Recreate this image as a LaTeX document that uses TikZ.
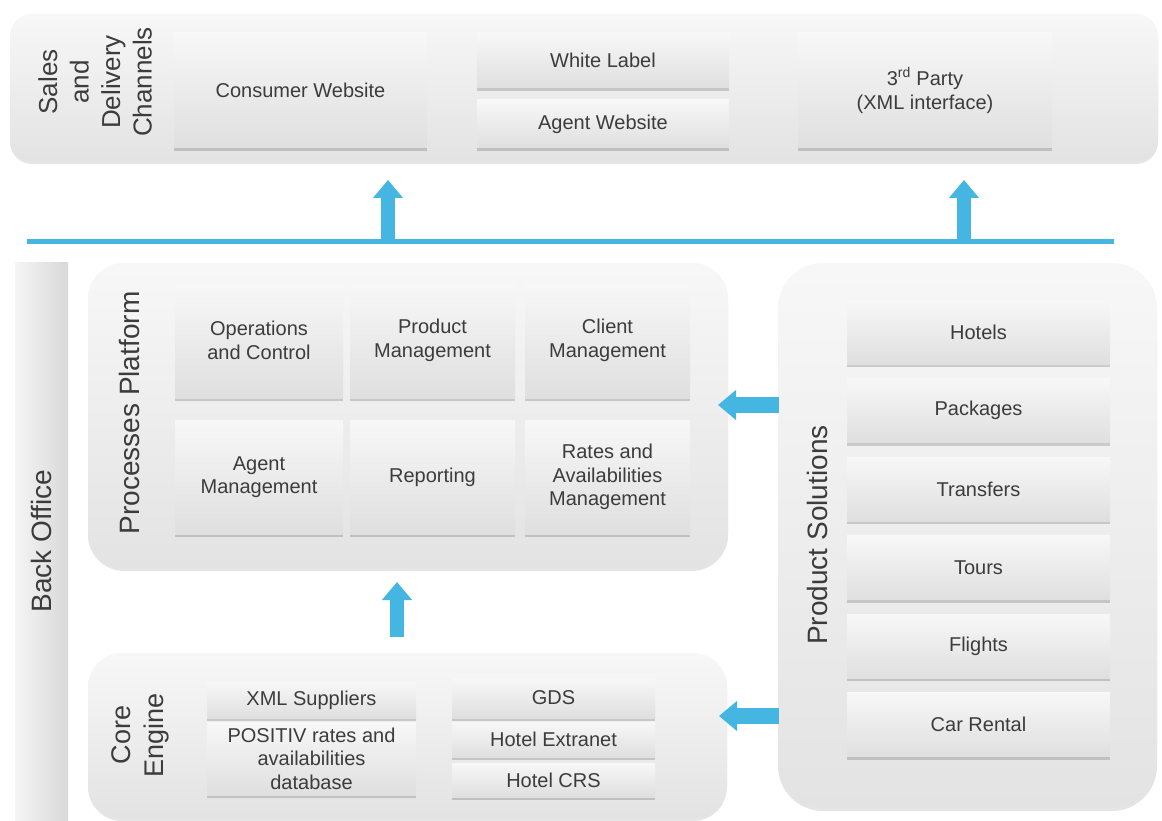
\documentclass[tikz,border=0pt]{standalone}
\usepackage{fontspec}
\setmainfont{Liberation Sans}
\usetikzlibrary{arrows.meta,shadows}
\definecolor{txt}{HTML}{3C3C3C}
\definecolor{bl}{HTML}{45B5E2}
\tikzset{
  cont/.style={rounded corners=#1, top color=gray!6, bottom color=gray!22, draw=none, inner sep=0pt,
    drop shadow={shadow xshift=0pt, shadow yshift=-3pt, fill=black, opacity=0.10}},
  ibox/.style={top color=gray!6, bottom color=gray!25, draw=none, inner sep=0pt, align=center, text=txt,
    font=\fontsize{20}{23.5}\selectfont,
    drop shadow={shadow xshift=0pt, shadow yshift=-3pt, fill=black, opacity=0.16}},
  seclab/.style={rotate=90, align=center, text=txt, font=\fontsize{28}{33}\selectfont},
  barrow/.style={draw=bl, line width=#1, -{Triangle[width=29pt,length=18pt]}},
  bus/.style={draw=bl, line width=5pt}
}
\begin{document}
\begin{tikzpicture}[x=1pt,y=-1pt]
\useasboundingbox[fill=white] (0,0) rectangle (1162,821);
% Sales and delivery channels
\node[cont=22pt, minimum width=1148pt, minimum height=147pt] (sales) at (584,87.5) {};
\node[seclab, font=\fontsize{26}{31.5}\selectfont] (saleslab) at (95,82) {Sales\\and\\Delivery\\Channels};
\node[ibox, minimum width=253pt, minimum height=115pt] (cw) at (300.5,90.5) {Consumer Website};
\node[ibox, minimum width=252pt, minimum height=55pt] (wl) at (603,60.5) {White Label};
\node[ibox, minimum width=252pt, minimum height=48pt] (aw) at (603,124) {Agent Website};
\node[ibox, minimum width=254pt, minimum height=115pt] (tp) at (925,90.5) {3\textsuperscript{rd} Party\\(XML interface)};
% bus
\coordinate (busl) at (27,242);
\coordinate (busr) at (1114,242);
\draw[bus] (busl) -- (busr);
\coordinate (b1) at (388,244);
\coordinate (t1) at (388,180);
\coordinate (b2) at (964,244);
\coordinate (t2) at (964,180);
\draw[barrow=14pt] (b1) -- (t1);
\draw[barrow=14pt] (b2) -- (t2);
% Back office bar
\node[left color=gray!8, right color=gray!30, draw=none, minimum width=53pt, minimum height=559pt, inner sep=0pt] (bo) at (41.5,541.5) {};
\node[seclab] (bolab) at (41,541) {Back Office};
% Processes platform
\node[cont=36pt, minimum width=640pt, minimum height=305pt] (pp) at (408,415.5) {};
\node[seclab] (pplab) at (129,413) {Processes Platform};
\node[ibox, minimum width=168pt, minimum height=115pt] (oc) at (259,340.5) {Operations\\and Control};
\node[ibox, minimum width=165pt, minimum height=115pt] (pm) at (432.5,340.5) {Product\\Management};
\node[ibox, minimum width=165pt, minimum height=115pt] (cm) at (607.5,340.5) {Client\\Management};
\node[ibox, minimum width=168pt, minimum height=114pt] (am) at (259,477) {Agent\\Management};
\node[ibox, minimum width=165pt, minimum height=114pt] (rp) at (432.5,477) {Reporting};
\node[ibox, minimum width=165pt, minimum height=114pt] (ra) at (607.5,477) {Rates and\\Availabilities\\Management};
% Core engine
\node[cont=34pt, minimum width=639pt, minimum height=165pt] (ce) at (407.5,735.5) {};
\node[seclab, font=\fontsize{27}{33}\selectfont] (celab) at (140,735) {Core\\Engine};
\node[ibox, minimum width=209pt, minimum height=36pt] (xml) at (311.5,700) {XML Suppliers};
\node[ibox, minimum width=209pt, minimum height=73pt] (pos) at (311.5,758.5) {POSITIV rates and\\availabilities\\database};
\node[ibox, minimum width=203pt, minimum height=40pt] (gds) at (553.5,698) {GDS};
\node[ibox, minimum width=203pt, minimum height=35pt] (hex) at (553.5,739.5) {Hotel Extranet};
\node[ibox, minimum width=203pt, minimum height=34pt] (crs) at (553.5,780) {Hotel CRS};
% Product solutions
\node[cont=45pt, minimum width=379pt, minimum height=545pt] (ps) at (967.5,535.5) {};
\node[seclab] (pslab) at (817,535) {Product Solutions};
\node[ibox, minimum width=263pt, minimum height=64pt] (ho) at (978.5,332) {Hotels};
\node[ibox, minimum width=263pt, minimum height=64pt] (pa) at (978.5,410.5) {Packages};
\node[ibox, minimum width=263pt, minimum height=64pt] (tr) at (978.5,489) {Transfers};
\node[ibox, minimum width=263pt, minimum height=64pt] (to) at (978.5,567.5) {Tours};
\node[ibox, minimum width=263pt, minimum height=64pt] (fl) at (978.5,646) {Flights};
\node[ibox, minimum width=263pt, minimum height=64pt] (cr) at (978.5,724.5) {Car Rental};
% arrows between blocks
\coordinate (a1s) at (779,405);
\coordinate (a1e) at (718,405);
\coordinate (a2s) at (779,716);
\coordinate (a2e) at (719,716);
\coordinate (a3s) at (397,637);
\coordinate (a3e) at (397,582);
\draw[barrow=16pt] (a1s) -- (a1e);
\draw[barrow=16pt] (a2s) -- (a2e);
\draw[barrow=14pt] (a3s) -- (a3e);
\end{tikzpicture}
\end{document}
